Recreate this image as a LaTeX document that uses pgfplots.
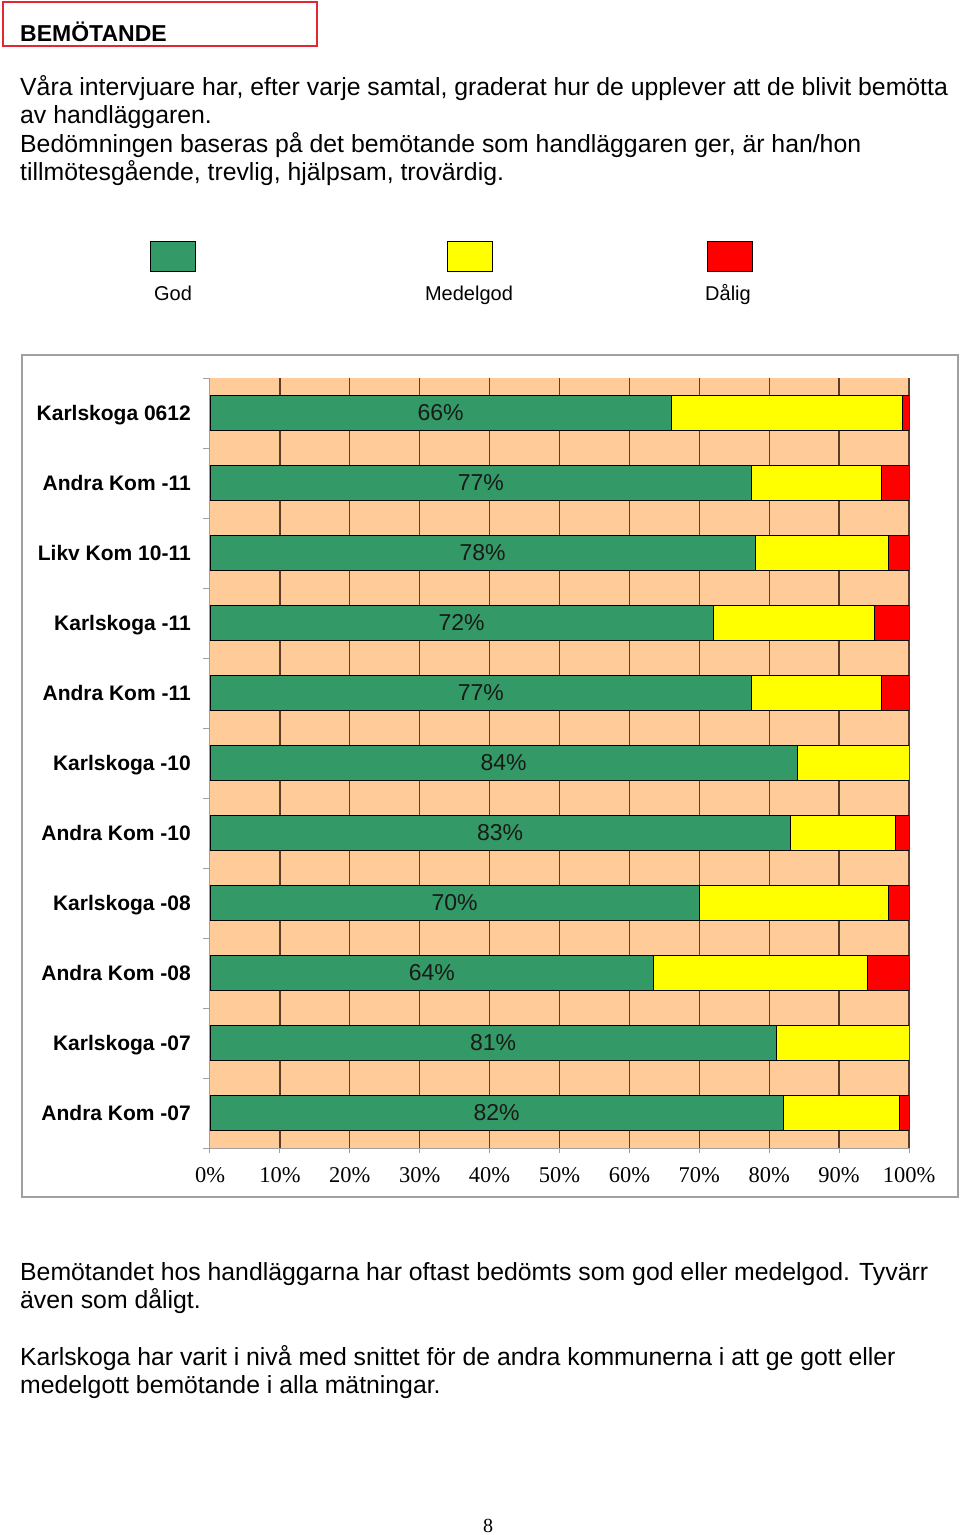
\documentclass[border=0pt]{standalone}
\usepackage{fontspec}
\setmainfont{Liberation Sans}
\newfontfamily\seriffont{Liberation Serif}
\usepackage{pgfplots}
\usepackage{pgfplotstable}
\pgfplotsset{compat=1.18}
\definecolor{god}{RGB}{51,153,102}
\definecolor{medel}{RGB}{255,255,0}
\definecolor{dalig}{RGB}{255,0,0}
\definecolor{tanbg}{RGB}{255,204,153}
\definecolor{gridc}{RGB}{90,60,40}
\definecolor{framec}{RGB}{160,160,160}
\definecolor{boxred}{RGB}{225,40,50}

% y: 10 = top row (Karlskoga 0612), 0 = bottom row (Andra Kom -07)
\pgfplotstableread{
y god medel dalig
10 66 33 1
9 77.5 18.5 4
8 78 19 3
7 72 23 5
6 77.5 18.5 4
5 84 16 0
4 83 15 2
3 70 27 3
2 63.5 30.5 6
1 81 19 0
0 82 16.6 1.4
}\data

\pgfplotstableread{
y x lab
10 33 66
9 38.75 77
8 39 78
7 36 72
6 38.75 77
5 42 84
4 41.5 83
3 35 70
2 31.75 64
1 40.5 81
0 41 82
}\labels

\begin{document}
\begin{tikzpicture}
\useasboundingbox (0,0) rectangle (960pt,-1535pt);

% title box
\draw[boxred, line width=2pt] (2.5pt,-2pt) rectangle (317pt,-45.5pt);
\node[anchor=base west, inner sep=0pt, font=\bfseries\fontsize{23}{23}\selectfont] at (20pt,-41pt) {BEMÖTANDE};

% intro text
\begin{scope}[every node/.style={anchor=base west, inner sep=0pt, font=\fontsize{24.8}{29}\selectfont}]
\node at (20pt,-95pt) {Våra intervjuare har, efter varje samtal, graderat hur de upplever att de blivit bemötta};
\node at (20pt,-123pt) {av handläggaren.};
\node at (20pt,-152pt) {Bedömningen baseras på det bemötande som handläggaren ger, är han/hon};
\node at (20pt,-180pt) {tillmötesgående, trevlig, hjälpsam, trovärdig.};
\node at (20pt,-1280pt) {Bemötandet hos handläggarna har oftast bedömts som god eller medelgod. Tyvärr};
\node at (20pt,-1308pt) {även som dåligt.};
\node at (20pt,-1365pt) {Karlskoga har varit i nivå med snittet för de andra kommunerna i att ge gott eller};
\node at (20pt,-1393pt) {medelgott bemötande i alla mätningar.};
\end{scope}

% legend
\draw[fill=god, draw=black, line width=1pt] (150pt,-241pt) rectangle (195pt,-271pt);
\draw[fill=medel, draw=black, line width=1pt] (447pt,-241pt) rectangle (492pt,-271pt);
\draw[fill=dalig, draw=black, line width=1pt] (707pt,-241pt) rectangle (752pt,-271pt);
\begin{scope}[every node/.style={anchor=base, inner sep=0pt, font=\fontsize{20}{20}\selectfont}]
\node at (173pt,-300pt) {God};
\node at (469pt,-300pt) {Medelgod};
\node at (728pt,-300pt) {Dålig};
\end{scope}

% chart frame
\draw[framec, line width=2pt] (22pt,-355pt) rectangle (958pt,-1197pt);

\begin{axis}[
  at={(210pt,-378pt)}, anchor=north west,
  width=699pt, height=770pt, scale only axis,
  xbar stacked, bar width=35pt,
  xmin=0, xmax=100, ymin=-0.5, ymax=10.5,
  axis background/.style={fill=tanbg},
  axis x line*=bottom, axis y line*=left,
  axis line style={draw=framec, line width=1pt},
  tick align=outside,
  major tick length=5pt, minor tick length=7pt,
  tick style={draw=framec, line width=1pt},
  xtick={0,10,...,100},
  xticklabels={0\%,10\%,20\%,30\%,40\%,50\%,60\%,70\%,80\%,90\%,100\%},
  minor xtick={10,20,...,100},
  xminorgrids=true,
  minor x grid style={draw=gridc, line width=1.3pt},
  minor x tick style={draw=none},
  ytick={0,...,10},
  yticklabels={Andra Kom -07,Karlskoga -07,Andra Kom -08,Karlskoga -08,Andra Kom -10,Karlskoga -10,Andra Kom -11,Karlskoga -11,Likv Kom 10-11,Andra Kom -11,Karlskoga 0612},
  major y tick style={draw=none},
  minor ytick={-0.5,0.5,...,10.5},
  xticklabel style={font=\seriffont\fontsize{22.5}{22.5}\selectfont, anchor=base, inner sep=0pt, yshift=-29pt},
  yticklabel style={font=\bfseries\fontsize{21}{21}\selectfont, anchor=base east, inner sep=0pt, xshift=-14pt, yshift=-7.5pt},
]
\addplot[fill=god, draw=black, line width=0.8pt] table[x=god, y=y]{\data};
\addplot[fill=medel, draw=black, line width=0.8pt] table[x=medel, y=y]{\data};
\addplot[fill=dalig, draw=black, line width=0.8pt] table[x=dalig, y=y]{\data};
\end{axis}

\begin{axis}[
  at={(210pt,-378pt)}, anchor=north west,
  width=699pt, height=770pt, scale only axis,
  xmin=0, xmax=100, ymin=-0.5, ymax=10.5,
  hide axis,
]
\addplot[draw=none, mark=none, point meta=explicit symbolic,
  nodes near coords={\pgfplotspointmeta\%},
  every node near coord/.append style={anchor=center, inner sep=0pt, font=\fontsize{23}{23}\selectfont, text=black!90}]
  table[x=x, y=y, meta=lab]{\labels};
\end{axis}

\node[anchor=base, inner sep=0pt, font=\seriffont\fontsize{20}{20}\selectfont] at (488pt,-1532pt) {8};
\end{tikzpicture}
\end{document}
